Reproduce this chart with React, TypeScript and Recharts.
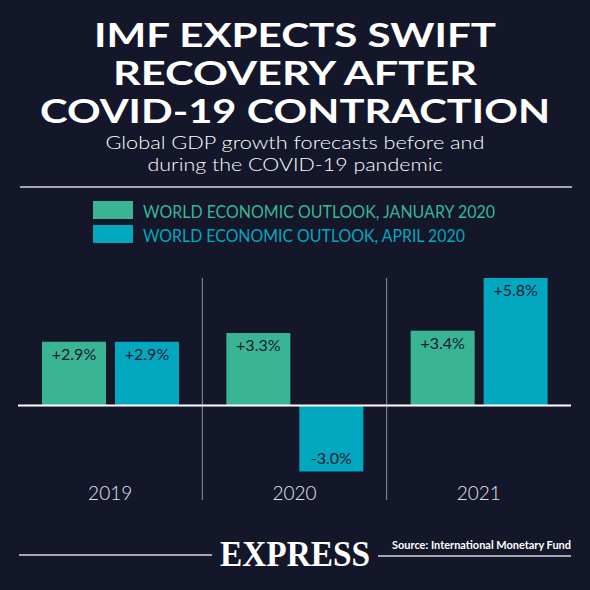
import {
  BarChart,
  Bar,
  XAxis,
  YAxis,
  CartesianGrid,
  ReferenceLine,
  LabelList,
} from "recharts";

const years = ["2019", "2020", "2021"];
const january2020 = [2.9, 3.3, 3.4];
const april2020 = [2.9, -3.0, 5.8];

const titleLines = ["IMF EXPECTS SWIFT", "RECOVERY AFTER", "COVID-19 CONTRACTION"];
const subtitleLines = ["Global GDP growth forecasts before and", "during the COVID-19 pandemic"];
const legendNames = ["WORLD ECONOMIC OUTLOOK, JANUARY 2020", "WORLD ECONOMIC OUTLOOK, APRIL 2020"];

const data = years.map((year, i) => ({
  year,
  january: january2020[i],
  april: april2020[i],
}));

const BG = "#14172a";
const GREEN = "#3ab594";
const TEAL = "#02a8bf";
const FONT = "Lato, 'Open Sans', sans-serif";

const fmt = (v: number) => (v > 0 ? "+" : "") + v.toFixed(1) + "%";

function ValueLabel(props: any) {
  const { x, y, width, height, value } = props;
  const top = Math.min(y, y + height);
  const bottom = Math.max(y, y + height);
  const ty = value >= 0 ? top + 18 : bottom - 7;
  return (
    <text x={x + width / 2} y={ty} textAnchor="middle" fill="#161a2c" fontSize={16} fontFamily={FONT}>
      {fmt(value)}
    </text>
  );
}

const renderYearTick = (props: any) => {
  const { x, y, payload } = props;
  return (
    <text x={x} y={y} textAnchor="middle" fill="#e2e3ea" fontSize={19} fontWeight={300} fontFamily={FONT}>
      {payload.value}
    </text>
  );
};

// title widths / baselines
const titleWidths = [402, 364, 510];
const titleBaselines = [47, 85, 123];
const subWidths = [379, 295];
const subBaselines = [149, 171];

export default function App() {
  return (
    <div style={{ position: "absolute", left: 0, top: 0, width: 590, height: 590, background: BG }}>
      <svg width={590} height={590} style={{ position: "absolute", left: 0, top: 0 }}>
        {titleLines.map((t, i) => (
          <text
            key={t}
            x={295}
            y={titleBaselines[i]}
            textAnchor="middle"
            fill="#ffffff"
            fontSize={31.5}
            fontWeight={700}
            fontFamily={FONT}
            textLength={titleWidths[i]}
            lengthAdjust="spacingAndGlyphs"
          >
            {t}
          </text>
        ))}
        {subtitleLines.map((t, i) => (
          <text
            key={t}
            x={295}
            y={subBaselines[i]}
            textAnchor="middle"
            fill="#ffffff"
            fontSize={18}
            fontWeight={300}
            fontFamily={FONT}
            textLength={subWidths[i]}
            lengthAdjust="spacingAndGlyphs"
          >
            {t}
          </text>
        ))}
        <line x1={20} x2={572} y1={187} y2={187} stroke="#d4d5dc" strokeWidth={1.5} />

        {/* legend */}
        <rect x={93} y={201} width={40} height={18} fill={GREEN} />
        <rect x={93} y={225} width={40} height={18} fill={TEAL} />
        <text x={143} y={218} fill={GREEN} fontSize={17} fontFamily={FONT} textLength={352} lengthAdjust="spacingAndGlyphs">
          {legendNames[0]}
        </text>
        <text x={143} y={241.5} fill={TEAL} fontSize={17} fontFamily={FONT} textLength={322} lengthAdjust="spacingAndGlyphs">
          {legendNames[1]}
        </text>

        {/* footer */}
        <line x1={19} x2={212} y1={555} y2={555} stroke="#d4d5dc" strokeWidth={1.5} />
        <line x1={378} x2={571} y1={556} y2={556} stroke="#d4d5dc" strokeWidth={1.5} />
        <text
          x={220}
          y={566}
          fill="#ffffff"
          fontSize={35}
          fontWeight={700}
          fontFamily="'Liberation Serif', 'DejaVu Serif', serif"
          textLength={150}
          lengthAdjust="spacingAndGlyphs"
        >
          EXPRESS
        </text>
        <text
          x={392}
          y={549}
          fill="#ffffff"
          fontSize={11}
          fontWeight={700}
          fontFamily={FONT}
          textLength={179}
          lengthAdjust="spacingAndGlyphs"
        >
          Source: International Monetary Fund
        </text>
      </svg>

      <div style={{ position: "absolute", left: 0, top: 0 }}>
        <BarChart
          width={590}
          height={590}
          data={data}
          margin={{ top: 278, right: 19, bottom: 70, left: 18 }}
          barCategoryGap={0}
          barGap={9}
          barSize={64}
        >
          <CartesianGrid
            horizontal={false}
            stroke="#8f92a2"
            strokeWidth={1}
            verticalCoordinatesGenerator={({ offset }: any) => [
              offset.left + offset.width / 3,
              offset.left + (2 * offset.width) / 3,
            ]}
          />
          <XAxis
            dataKey="year"
            height={20}
            axisLine={false}
            tickLine={false}
            tickSize={0}
            tickMargin={0}
            interval={0}
            tick={renderYearTick}
          />
          <YAxis hide domain={[-4.3, 5.8]} />
          <Bar dataKey="january" fill={GREEN} isAnimationActive={false}>
            <LabelList dataKey="january" content={<ValueLabel />} />
          </Bar>
          <Bar dataKey="april" fill={TEAL} isAnimationActive={false}>
            <LabelList dataKey="april" content={<ValueLabel />} />
          </Bar>
          <ReferenceLine y={0} stroke="#ffffff" strokeWidth={2} />
        </BarChart>
      </div>
    </div>
  );
}
